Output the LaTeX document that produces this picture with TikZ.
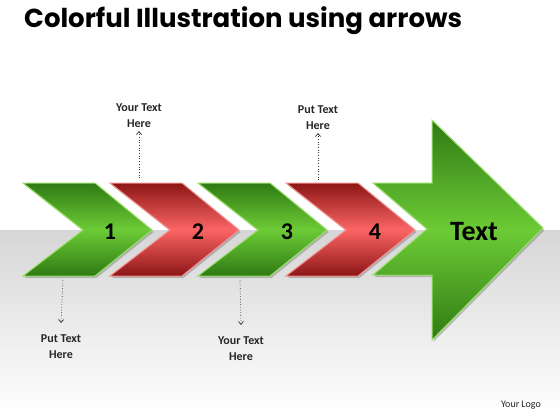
\documentclass[tikz,border=0pt]{standalone}
\usepackage{fontspec}
\setmainfont{Carlito}
\newfontfamily\titlefont{Poppins}
\usetikzlibrary{arrows.meta}
\definecolor{gdark}{HTML}{2F7A14}
\definecolor{glight}{HTML}{6CCB35}
\definecolor{gedge}{HTML}{9ADF6A}
\definecolor{rdark}{HTML}{8C1616}
\definecolor{rlight}{HTML}{FB6464}
\definecolor{redge}{HTML}{F39090}
\definecolor{band}{HTML}{D6D6D6}
\tikzset{
  greenfill/.style={top color=gdark, bottom color=gdark, middle color=glight, draw=gedge, line width=1pt, line join=miter},
  redfill/.style={top color=rdark, bottom color=rdark, middle color=rlight, draw=redge, line width=1pt, line join=miter},
  shadowfill/.style={fill=black, opacity=0.2, draw=none},
  numtext/.style={font=\bfseries\fontsize{24}{24}\selectfont, text=black},
  calltext/.style={font=\bfseries\fontsize{12}{16}\selectfont, align=center, inner xsep=3pt, text=black!85},
  callout/.style={dotted, line width=0.7pt, black!80, -{Straight Barb[length=3pt,width=5pt,line width=0.7pt,sep=0pt]}},
}
\newcommand\chevpath[1]{(#1,183) -- ++(72,0) -- ++(57,47) -- ++(-57,46) -- ++(-72,0) -- ++(60,-46) -- cycle}
\begin{document}
\begin{tikzpicture}[x=1pt,y=-1pt]
\useasboundingbox (0,0) rectangle (560,420);
\fill[white] (0,0) rectangle (560,420);
\shade[top color=band, bottom color=white] (0,230) rectangle (560,415);
\node[anchor=base west, inner sep=0pt, font=\titlefont\bfseries\fontsize{26}{26}\selectfont] (title) at (24,28) {Colorful Illustration using arrows};
% shadows
\foreach \x in {23,110,198,286} {
  \fill[shadowfill] [shift={(1.5,2)}] \chevpath{\x};
}
\fill[shadowfill] [shift={(1.5,2)}] (373,183) -- (432,183) -- (432,120) -- (543,228) -- (432,340) -- (432,275) -- (373,275) -- (427,229) -- cycle;
% chevrons
\path[greenfill] \chevpath{23};
\path[redfill] \chevpath{110};
\path[greenfill] \chevpath{198};
\path[redfill] \chevpath{286};
\path[greenfill] (373,183) -- (432,183) -- (432,120) -- (543,228) -- (432,340) -- (432,275) -- (373,275) -- (427,229) -- cycle;
% labels
\node[numtext] (n1) at (110,232) {1};
\node[numtext] (n2) at (198,232) {2};
\node[numtext] (n3) at (287,232) {3};
\node[numtext] (n4) at (375,232) {4};
\node[font=\bfseries\fontsize{28}{28}\selectfont] (nt) at (474,232) {Text};
% callouts
\coordinate (c2) at (139,178);
\coordinate (c4) at (318,180);
\coordinate (c1) at (63,280);
\coordinate (c3) at (240,280);
\node[calltext, inner ysep=3pt, anchor=south] (t2) at (139,131) {Your Text\\Here};
\node[calltext, inner ysep=3pt, anchor=south] (t4) at (318,133) {Put Text\\Here};
\node[calltext, inner ysep=12pt, anchor=north] (t1) at (61,323) {Put Text\\Here};
\node[calltext, inner ysep=12pt, anchor=north] (t3) at (241,325) {Your Text\\Here};
\draw[callout] (c2) -- (t2.south);
\draw[callout] (c4) -- (t4.south);
\draw[callout] (c1) -- (t1.north);
\draw[callout] (c3) -- (t3.north);
\node[font=\fontsize{10}{10}\selectfont, text=black!85] (logo) at (521,405) {Your Logo};
\end{tikzpicture}
\end{document}
